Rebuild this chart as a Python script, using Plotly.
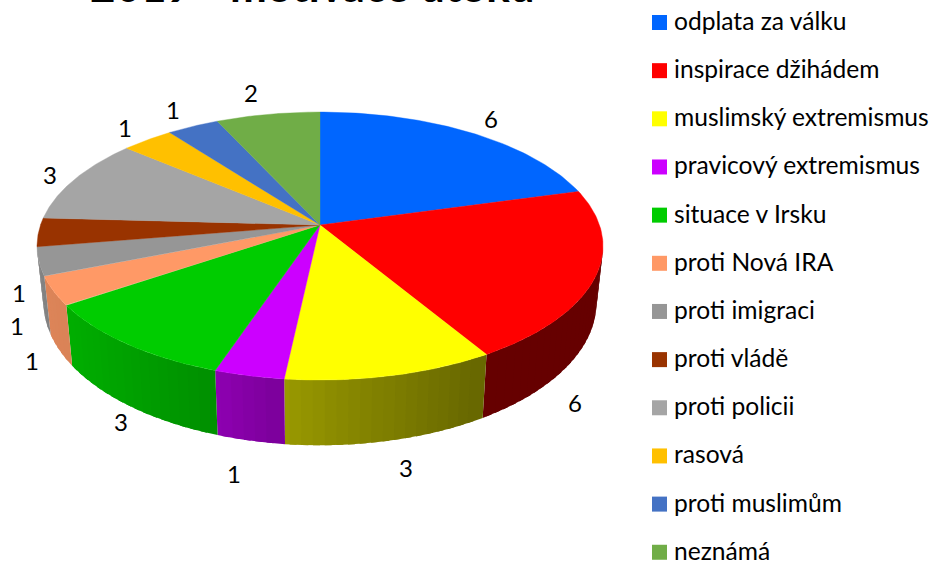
import numpy as np
import plotly.graph_objects as go

# --- data -----------------------------------------------------------------
categories = ["odplata za válku", "inspirace džihádem", "muslimský extremismus",
              "pravicový extremismus", "situace v Irsku", "proti Nová IRA",
              "proti imigraci", "proti vládě", "proti policii", "rasová",
              "proti muslimům", "neznámá"]
values = [6, 6, 3, 1, 3, 1, 1, 1, 3, 1, 1, 2]
title_text = "2019 - motivace útoků"

# --- style and layout -----------------------------------------------------
colors = ["#0066FF", "#FF0000", "#FFFF00", "#CC00FF", "#00CC00", "#FF9966",
          "#969696", "#993300", "#A5A5A5", "#FFC000", "#4472C4", "#70AD47"]
FONT = "Lato"
W, H = 936, 563
CX, CY = 320, 225          # pie apex on the page
A, B, K = 279.5, 130.7, 0.157   # perspective of the disc
DEPTH, SHRINK = 55, 0.977  # side wall
WALL_LIMIT = -0.16         # the wall is drawn only on the near part of the rim
label_offsets = [(21, -14), (-21, 126), (15, 92), (-15, 98), (-6, 78), (-21, 69),
                 (-22, 64), (-20, 60), (-25, -5), (-22, -12), (-20, -17), (-17, -22)]
shade_x = [40, 70, 215, 285, 486, 600]
shade_f = [0.87, 0.85, 0.70, 0.60, 0.40, 0.40]


def project(theta):
    X, Y = np.sin(theta), np.cos(theta)
    d = 1 + K * Y
    return CX + A * X / d, CY - B * Y / d


def project_bottom(theta):
    x, y = project(theta)
    d = 1 + K * np.cos(theta)
    return CX + (x - CX) * SHRINK, y + DEPTH / d


def shaded(hex_color, x):
    f = float(np.interp(x, shade_x, shade_f))
    rgb = [int(hex_color[i:i + 2], 16) for i in (1, 3, 5)]
    return "rgb(%d,%d,%d)" % tuple(round(c * f) for c in rgb)


edges = np.concatenate([[0], np.cumsum(values)]) / sum(values) * 2 * np.pi
fig = go.Figure()

# side wall: each band overlaps the next one so that no seam shows
for i, col in enumerate(colors):
    n = max(2, int((edges[i + 1] - edges[i]) / np.radians(2.0)))
    t = np.linspace(edges[i], edges[i + 1], n + 1)
    step = t[1] - t[0]
    for a in t[:-1][::-1]:
        b = min(a + 1.6 * step, edges[i + 1])
        if np.cos(a + step / 2) > WALL_LIMIT:
            continue
        tt = np.linspace(a, b, 4)
        xt, yt = project(tt)
        xb, yb = project_bottom(tt)
        c = shaded(col, float(xt[0] + xt[-1]) / 2)
        fig.add_trace(go.Scatter(x=np.r_[xt, xb[::-1], xt[0]], y=np.r_[yt, yb[::-1], yt[0]],
                                 mode="lines", fill="toself", fillcolor=c,
                                 line=dict(width=0), hoverinfo="skip", showlegend=False))

# top of the disc
for i, col in enumerate(colors):
    t = np.linspace(edges[i], edges[i + 1], 80)
    x, y = project(t)
    fig.add_trace(go.Scatter(x=np.r_[CX, x, CX], y=np.r_[CY, y, CY], mode="lines",
                             fill="toself", fillcolor=col, line=dict(color=col, width=0.4),
                             name=categories[i], text=categories[i], hoverinfo="text",
                             showlegend=False))

# value labels
annotations = []
mids = (edges[:-1] + edges[1:]) / 2
for v, m, (dx, dy) in zip(values, mids, label_offsets):
    x, y = project(m)
    annotations.append(dict(x=x + dx, y=y + dy, text=str(v), showarrow=False,
                            font=dict(family=FONT, size=24, color="#000000"),
                            xanchor="center", yanchor="middle"))

# legend
rows = 22.5 + np.arange(len(categories)) * 48.16
fig.add_trace(go.Scatter(x=[659.5] * len(categories), y=rows, mode="markers",
                         marker=dict(symbol="square", size=15, color=colors),
                         hoverinfo="skip", showlegend=False))
for name, y in zip(categories, rows):
    annotations.append(dict(x=672, y=y - 2, text=name, showarrow=False, xanchor="left",
                            yanchor="middle",
                            font=dict(family=FONT, size=24.6, color="#000000")))

# title, cropped by the top of the page as in the original
annotations.append(dict(x=312.5, y=13, text=title_text, showarrow=False, xanchor="center",
                        yanchor="bottom", font=dict(family=FONT, size=44, color="#000000",
                                                    weight="bold")))

axis = dict(visible=False, fixedrange=True)
fig.update_layout(width=W, height=H, autosize=False,
                  margin=dict(l=0, r=0, t=0, b=0),
                  paper_bgcolor="white", plot_bgcolor="white",
                  xaxis=dict(range=[0, W], **axis),
                  yaxis=dict(range=[H, 0], **axis),
                  annotations=annotations, showlegend=False)
fig.write_html("out.html", config=dict(displayModeBar=False),
               post_script="document.body.style.margin='0';document.body.style.overflow='hidden';")
